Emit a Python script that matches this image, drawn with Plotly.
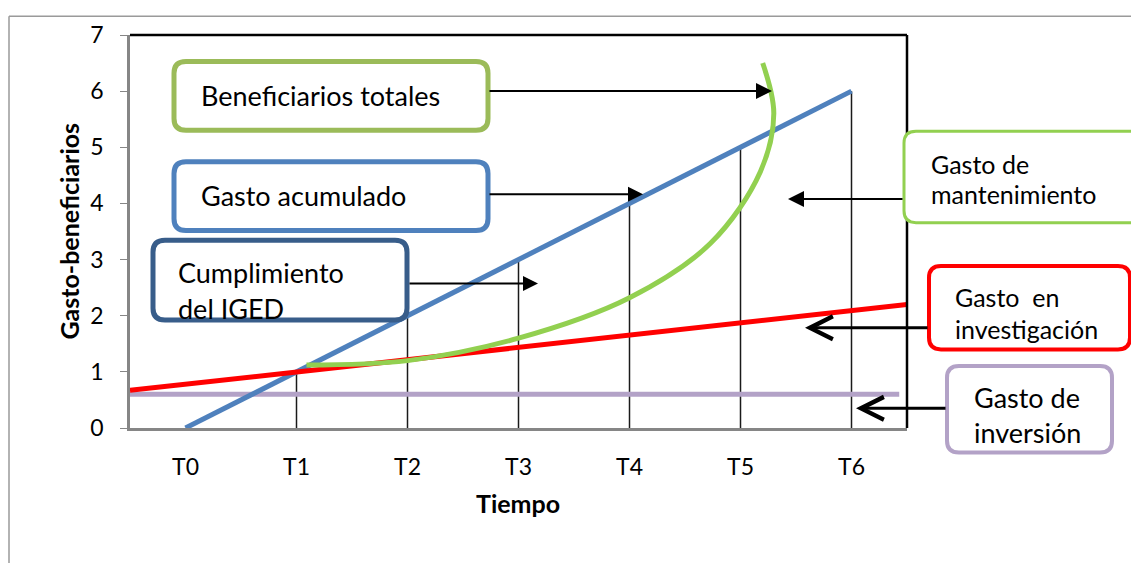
import re
import plotly.graph_objects as go

# data
periodos = ["T0", "T1", "T2", "T3", "T4", "T5", "T6"]
gasto_acumulado = [0, 1, 2, 3, 4, 5, 6]

investigacion_x = [-0.5, 6.5]
investigacion_y = [0.67, 2.2]

inversion_x = [-0.5, 6.43]
inversion_y = [0.6, 0.6]

beneficiarios_x = [1.09, 2.0, 3.0, 4.0, 4.73, 5.18, 5.3, 5.2]
beneficiarios_y = [1.12, 1.2, 1.6, 2.32, 3.29, 4.57, 5.6, 6.5]

FONT = "Lato"
W, H = 1139, 563
OFF = 8                         # page offset of the plot div
L, R, T, B = 130, 907, 28, 428  # plot area as seen in the picture


def px(x):
    return (x - L) / (R - L)


def py(y):
    return (B - y) / (B - T)


xs = list(range(len(periodos)))

fig = go.Figure()

# drop lines from the axis up to the cumulative spending line
drop_x, drop_y = [], []
for i, v in zip(xs[1:], gasto_acumulado[1:]):
    drop_x += [i, i, None]
    drop_y += [0, v, None]
fig.add_trace(go.Scatter(x=drop_x, y=drop_y, mode="lines",
                         line=dict(color="#1a1a1a", width=1.5), hoverinfo="skip"))

fig.add_trace(go.Scatter(x=inversion_x, y=inversion_y, mode="lines",
                         line=dict(color="#B3A2C7", width=5)))
fig.add_trace(go.Scatter(x=xs, y=gasto_acumulado, mode="lines",
                         line=dict(color="#4F81BD", width=5)))
fig.add_trace(go.Scatter(x=investigacion_x, y=investigacion_y, mode="lines",
                         line=dict(color="#FF0000", width=5)))
fig.add_trace(go.Scatter(x=beneficiarios_x, y=beneficiarios_y, mode="lines",
                         line=dict(color="#92D050", width=5, shape="spline", smoothing=1.0)))

shapes = []
annotations = []


def rbox(x0, y0, x1, y1, color, width=5, r=12):
    path = (f"M {x0 + r},{y0} L {x1 - r},{y0} Q {x1},{y0} {x1},{y0 + r} "
            f"L {x1},{y1 - r} Q {x1},{y1} {x1 - r},{y1} L {x0 + r},{y1} "
            f"Q {x0},{y1} {x0},{y1 - r} L {x0},{y0 + r} Q {x0},{y0} {x0 + r},{y0} Z")

    def conv(m):
        return f"{px(float(m.group(1))):.5f},{py(float(m.group(2))):.5f}"
    path = re.sub(r"(-?\d+\.?\d*),(-?\d+\.?\d*)", conv, path)
    shapes.append(dict(type="path", xref="paper", yref="paper", path=path,
                       line=dict(color=color, width=width), fillcolor="white", layer="above"))


def label(x, y, text, size=27, **kw):
    d = dict(x=px(x), y=py(y), xref="paper", yref="paper", text=text,
             showarrow=False, xanchor="left", yanchor="middle",
             font=dict(family=FONT, size=size, color="black"))
    d.update(kw)
    annotations.append(d)


def arrow(x0, y0, x1, y1, head=2, size=1.0, width=2):
    annotations.append(dict(x=px(x1), y=py(y1), xref="paper", yref="paper", text="",
                            showarrow=True, ax=x0 - x1, ay=y0 - y1, axref="pixel", ayref="pixel",
                            arrowhead=head, arrowsize=size, arrowwidth=width, arrowcolor="black",
                            standoff=0, startstandoff=0))


# outer frame and plot-area borders
shapes.append(dict(type="line", xref="paper", yref="paper", x0=px(9), x1=px(9), y0=py(9), y1=py(570),
                   line=dict(color="#9A9A9A", width=1.5)))
shapes.append(dict(type="line", xref="paper", yref="paper", x0=px(9), x1=px(1145), y0=py(9), y1=py(9),
                   line=dict(color="#9A9A9A", width=1.5)))
shapes.append(dict(type="line", xref="paper", yref="paper", x0=0, x1=1, y0=1, y1=1,
                   line=dict(color="black", width=2.5)))
shapes.append(dict(type="line", xref="paper", yref="paper", x0=1, x1=1, y0=0, y1=1,
                   line=dict(color="black", width=2.5)))

# arrows
arrow(488, 85, 772, 85, head=2, size=1.6)
arrow(488, 190, 643, 190, head=2, size=1.5)
arrow(408, 281, 538, 281, head=2, size=1.5)
arrow(904, 195, 788, 195, head=2, size=1.6)
arrow(929, 326, 805, 326, head=5, size=1.5, width=3)
arrow(947, 408, 856, 408, head=5, size=1.5, width=3)

# boxes and texts
rbox(174, 55, 488, 125, "#9BBB59")
label(199, 90, "Beneficiarios totales")
rbox(174, 157, 488, 227, "#4F81BD")
label(199, 191, "Gasto acumulado")
rbox(153, 237, 407, 318, "#385D8A")
label(176, 270, "Cumplimiento")
label(176, 306, "del IGED")
rbox(904, 126, 1142, 219, "#92D050", width=3)
label(929, 159, "Gasto de", 25)
label(929, 190, "mantenimiento", 25)
rbox(929, 263, 1130, 348, "#FF0000", width=4)
label(953, 295, "Gasto  en", 25)
label(953, 327, "investigación", 25)
rbox(947, 365, 1112, 453, "#B3A2C7", width=4)
label(972, 397, "Gasto de", 27)
label(972, 433, "inversión", 27)

# axis titles
label(68, 228, "<b>Gasto-beneficiarios</b>", 25, xanchor="center", textangle=-90)
label(518, 504, "<b>Tiempo</b>", 25, xanchor="center")

fig.update_layout(
    width=W, height=H,
    margin=dict(l=L - OFF, r=W - R + OFF, t=T - OFF, b=H - B + OFF),
    paper_bgcolor="white", plot_bgcolor="white",
    showlegend=False,
    shapes=shapes, annotations=annotations,
    font=dict(family=FONT, size=23, color="black"),
)
fig.update_xaxes(range=[-0.5, 6.5], tickvals=xs, ticktext=periodos, showgrid=False, zeroline=False,
                 showline=True, linecolor="#868686", linewidth=2.5, ticks="", ticklabelstandoff=17,
                 tickfont=dict(family=FONT, size=23))
fig.update_yaxes(range=[0, 7], dtick=1, showgrid=False, zeroline=False,
                 showline=True, linecolor="#868686", linewidth=2.5, ticks="outside", ticklen=7,
                 tickcolor="#868686", ticklabelstandoff=12, tickfont=dict(family=FONT, size=23))

fig.write_html("out.html")
